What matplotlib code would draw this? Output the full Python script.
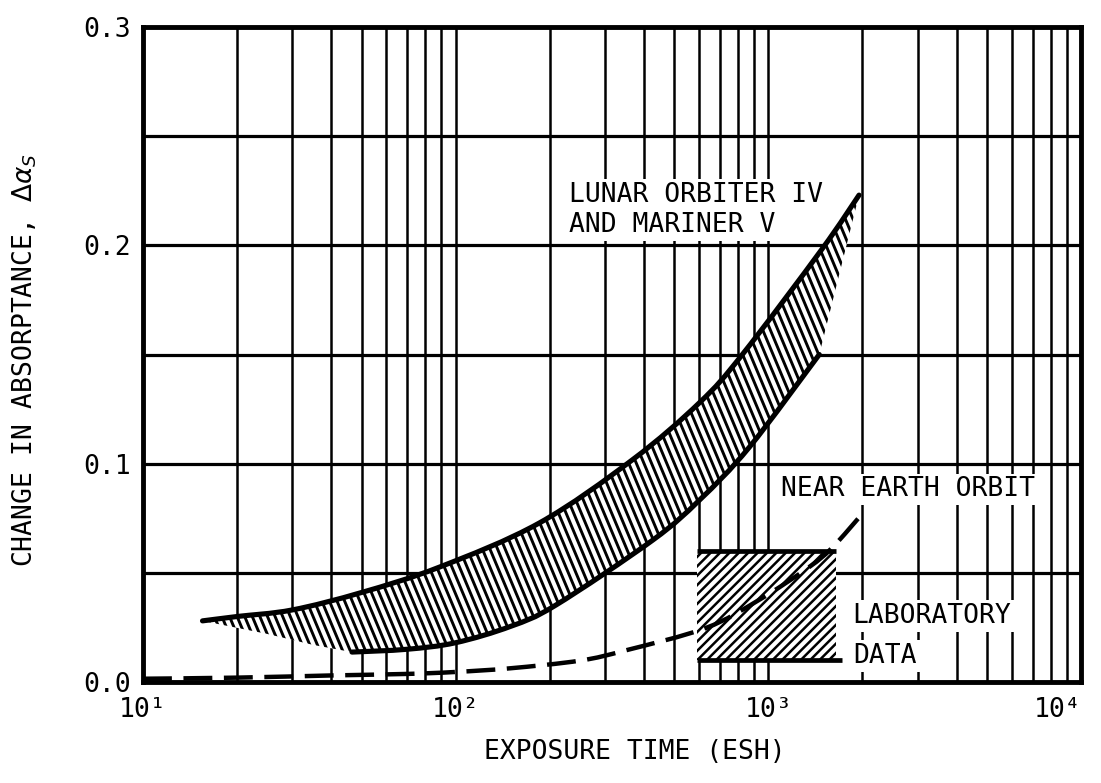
import numpy as np
import matplotlib
matplotlib.use("Agg")
import matplotlib.pyplot as plt
from matplotlib.ticker import FixedLocator, LogLocator, NullFormatter
from matplotlib.patches import PathPatch
from matplotlib.path import Path
from matplotlib.collections import LineCollection

# ---- data -------------------------------------------------------------
# Lunar Orbiter IV / Mariner V band (exposure time in ESH, change in absorptance)
upper_x = [15.5, 20, 30, 50, 89, 185, 367, 603, 826, 1480, 1950]
upper_y = [0.028, 0.030, 0.033, 0.041, 0.0527, 0.0728, 0.1017, 0.128, 0.150, 0.198, 0.223]
lower_x = [46.6, 70, 100, 150, 209, 427, 603, 870, 1455]
lower_y = [0.0137, 0.0150, 0.0180, 0.0255, 0.0352, 0.065, 0.0834, 0.1076, 0.150]
# hatched tail below the upper curve, left of where the lower curve starts
tail_x = [15.5, 25, 35, 46.6]
tail_y = [0.028, 0.022, 0.017, 0.0137]

# near earth orbit trend
near_x = [10, 20, 40, 70, 100, 150, 250, 350, 630, 934, 1346, 1600, 2010]
near_y = [0.0015, 0.002, 0.003, 0.0037, 0.0046, 0.0063, 0.0098, 0.0145, 0.0247,
          0.0376, 0.0525, 0.0615, 0.0775]

# laboratory data block
lab_x = [590, 1650]
lab_y = [0.010, 0.060]
lab_bottom_end = 1720

x_ticks = [10, 100, 1000, 10000]
x_labels = ["10¹", "10²", "10³", "10⁴"]
y_ticks = [0.0, 0.1, 0.2, 0.3]
y_labels = ["0.0", "0.1", "0.2", "0.3"]
y_minor = [0.05, 0.15, 0.25]

# ---- figure -----------------------------------------------------------
plt.rcParams["font.family"] = ["DejaVu Sans Mono", "DejaVu Sans"]
plt.rcParams["mathtext.fontset"] = "dejavusans"
FS = 19

W_PX, H_PX = 1101, 783
fig = plt.figure(figsize=(W_PX / 100, H_PX / 100), dpi=100)
L, R, T, B = 143, 1081, 27, 682
ax = fig.add_axes([L / W_PX, 1 - B / H_PX, (R - L) / W_PX, (B - T) / H_PX])
ax_w, ax_h = R - L, B - T
PX_DECADE = ax_w / 3.0
PX_UNIT = ax_h / 0.3

ax.set_xscale("log")
ax.set_xlim(10, 1e4)
ax.set_ylim(0, 0.3)

ax.xaxis.set_major_locator(FixedLocator(x_ticks))
ax.set_xticklabels(x_labels, fontsize=FS)
ax.xaxis.set_minor_locator(LogLocator(base=10, subs=np.arange(2, 10)))
ax.xaxis.set_minor_formatter(NullFormatter())
ax.yaxis.set_major_locator(FixedLocator(y_ticks))
ax.set_yticklabels(y_labels, fontsize=FS)
ax.yaxis.set_minor_locator(FixedLocator(y_minor))
ax.get_xticklabels()[-1].set_horizontalalignment("right")

ax.tick_params(which="both", length=0)
ax.tick_params(axis="x", pad=11)
ax.tick_params(axis="y", pad=9)

ax.set_axisbelow(True)
ax.grid(which="both", axis="x", color="black", lw=1.8)
ax.grid(which="both", axis="y", color="black", lw=2.3)
for sp in ax.spines.values():
    sp.set_linewidth(3.5)
    sp.set_zorder(10)


def smooth_segments(xs, ys):
    """Bezier (CURVE4) vertices through the points, built in log-x / linear-y space."""
    u = np.log10(np.asarray(xs, float)) * PX_DECADE
    v = np.asarray(ys, float) * PX_UNIT
    P = np.column_stack([u, v])
    n = len(P)
    verts, codes = [], []
    for i in range(n - 1):
        p0 = P[max(i - 1, 0)]
        p1, p2 = P[i], P[i + 1]
        p3 = P[min(i + 2, n - 1)]
        c1 = p1 + (p2 - p0) / 6.0
        c2 = p2 - (p3 - p1) / 6.0
        verts += [c1, c2, p2]
        codes += [Path.CURVE4] * 3
    verts = np.array(verts)
    verts[:, 0] = 10 ** (verts[:, 0] / PX_DECADE)
    verts[:, 1] = verts[:, 1] / PX_UNIT
    return verts, codes


def curve_path(xs, ys):
    v, c = smooth_segments(xs, ys)
    return Path(np.vstack([[xs[0], ys[0]], v]), [Path.MOVETO] + c)


def add_hatch(clip_patch, slope_dx, spacing_px, lw):
    """Straight hatch lines across the axes, clipped to a patch."""
    shift = slope_dx * ax_h
    starts = np.arange(-abs(shift) - spacing_px, ax_w + abs(shift) + spacing_px, spacing_px)
    segs = [[(s / ax_w, 1.0), ((s + shift) / ax_w, 0.0)] for s in starts]
    lc = LineCollection(segs, colors="black", linewidths=lw, transform=ax.transAxes,
                        zorder=3, capstyle="butt")
    ax.add_collection(lc)
    lc.set_clip_path(clip_patch)


# band outline: upper curve, straight to the lower curve's end, lower curve back, tail
uv, uc = smooth_segments(upper_x, upper_y)
lv, lc_ = smooth_segments(lower_x[::-1], lower_y[::-1])
band_verts = ([[upper_x[0], upper_y[0]]] + list(uv) + [[lower_x[-1], lower_y[-1]]]
              + list(lv) + [[x, y] for x, y in zip(tail_x[::-1][1:], tail_y[::-1][1:])]
              + [[upper_x[0], upper_y[0]]])
band_codes = ([Path.MOVETO] + uc + [Path.LINETO] + lc_
              + [Path.LINETO] * (len(tail_x) - 1) + [Path.CLOSEPOLY])
band = PathPatch(Path(np.array(band_verts, float), band_codes), facecolor="white",
                 edgecolor="none", transform=ax.transData, zorder=2)
ax.add_patch(band)
add_hatch(band, slope_dx=0.42, spacing_px=7.6, lw=2.1)

for xs, ys in ((upper_x, upper_y), (lower_x, lower_y)):
    ax.add_patch(PathPatch(curve_path(xs, ys), facecolor="none", edgecolor="black",
                           lw=3.7, capstyle="round", zorder=4))

# laboratory block
box_path = Path([(lab_x[0], lab_y[0]), (lab_x[1], lab_y[0]), (lab_x[1], lab_y[1]),
                 (lab_x[0], lab_y[1]), (lab_x[0], lab_y[0])],
                [Path.MOVETO, Path.LINETO, Path.LINETO, Path.LINETO, Path.CLOSEPOLY])
box = PathPatch(box_path, facecolor="white", edgecolor="none", zorder=2)
ax.add_patch(box)
add_hatch(box, slope_dx=-1.0, spacing_px=9.4, lw=1.8)
ax.hlines(lab_y[1], lab_x[0], lab_x[1], color="black", lw=3.4, zorder=4)
ax.hlines(lab_y[0], lab_x[0], lab_bottom_end, color="black", lw=3.4, zorder=4)

# near earth orbit (dashed)
ax.add_patch(PathPatch(curve_path(near_x, near_y), facecolor="none", edgecolor="black",
                       lw=3.2, linestyle=(0, (6.5, 2.6)), zorder=5, clip_on=False))

# annotations
txt_kw = dict(fontsize=FS, color="black", zorder=6,
              bbox=dict(facecolor="white", edgecolor="none", pad=2))
ax.text(231, 0.220, "LUNAR ORBITER IV", va="baseline", ha="left", **txt_kw)
ax.text(231, 0.206, "AND MARINER V", va="baseline", ha="left", **txt_kw)
ax.text(1100, 0.085, "NEAR EARTH ORBIT", va="baseline", ha="left", **txt_kw)
ax.text(1853, 0.027, "LABORATORY", va="baseline", ha="left", **txt_kw)
ax.text(1870, 0.0087, "DATA", va="baseline", ha="left", **txt_kw)

fig.text(635 / W_PX, 1 - 752 / H_PX, "EXPOSURE TIME (ESH)", fontsize=FS,
         ha="center", va="center")
fig.text(25 / W_PX, 1 - 360 / H_PX, r"CHANGE IN ABSORPTANCE, $\Delta\alpha_S$",
         fontsize=FS, ha="center", va="center", rotation=90)

fig.savefig("out.png", dpi=100, facecolor="white")
